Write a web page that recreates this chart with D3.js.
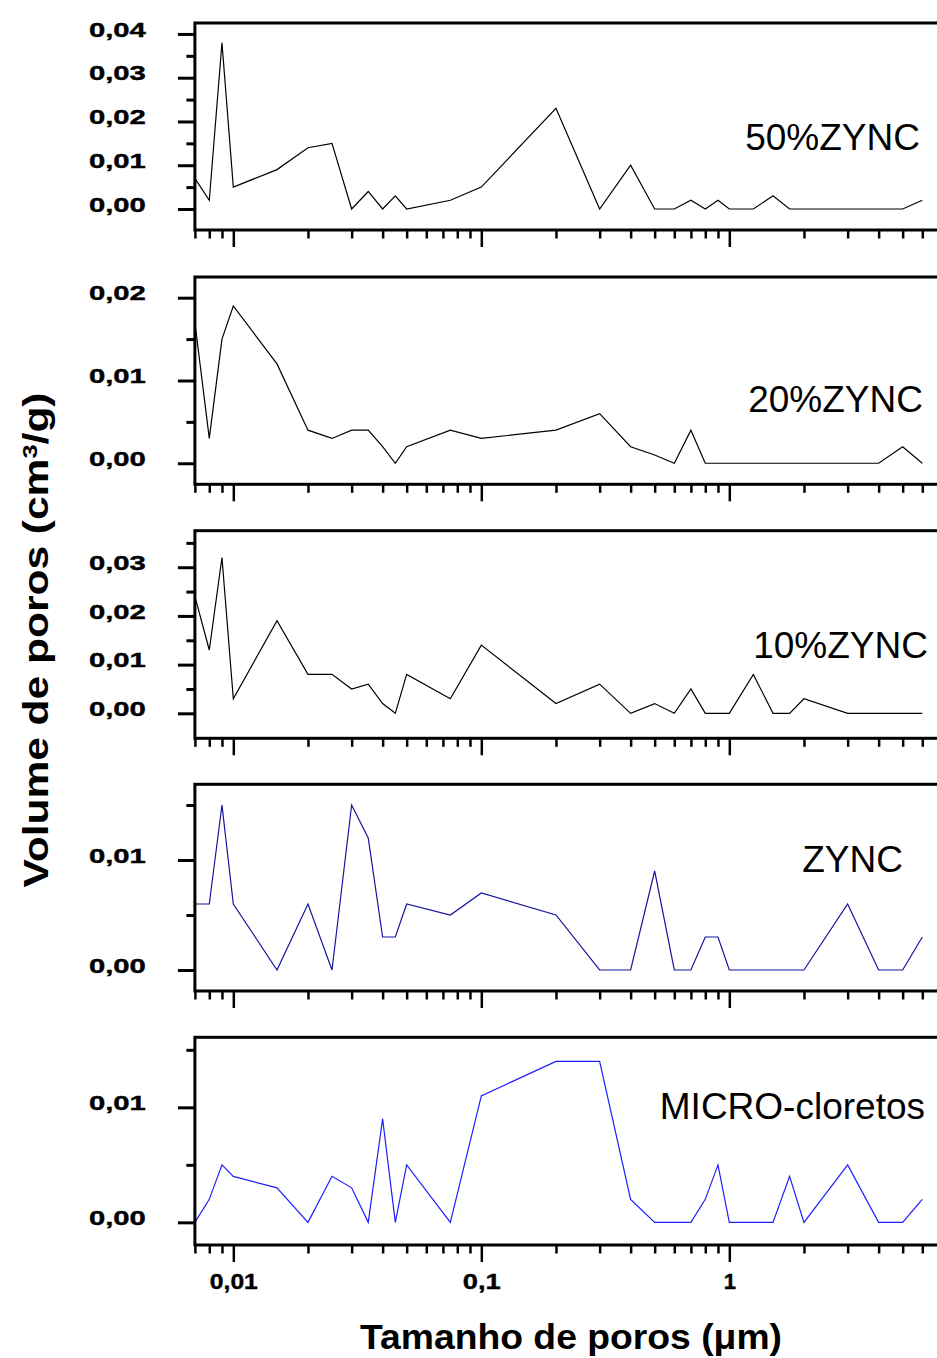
<!DOCTYPE html>
<html>
<head>
<meta charset="utf-8">
<script src="https://cdn.jsdelivr.net/npm/d3@7"></script>
<style>
  html, body { margin: 0; padding: 0; background: #fff; }
  svg { display: block; }
  svg text { font-family: "Liberation Sans", Arial, sans-serif; }
</style>
</head>
<body>
<div id="chart"></div>
<script>
// ---------- data ----------
const poreSize = [0.007, 0.008, 0.009, 0.01, 0.015, 0.02, 0.025, 0.03, 0.035, 0.04, 0.045, 0.05, 0.075, 0.1,
                  0.2, 0.3, 0.4, 0.5, 0.6, 0.7, 0.8, 0.9, 1, 1.25, 1.5, 1.75, 2, 3, 4, 5, 6];

const vol50 = [0.007, 0.002, 0.038, 0.005, 0.009, 0.014, 0.015, 0, 0.004, 0, 0.003, 0, 0.002, 0.005,
               0.023, 0, 0.010, 0, 0, 0.002, 0, 0.002, 0, 0, 0.003, 0, 0, 0, 0, 0, 0.002];
const vol20 = [0.017, 0.003, 0.015, 0.019, 0.012, 0.004, 0.003, 0.004, 0.004, 0.002, 0, 0.002, 0.004, 0.003,
               0.004, 0.006, 0.002, 0.001, 0, 0.004, 0, 0, 0, 0, 0, 0, 0, 0, 0, 0.002, 0];
const vol10 = [0.024, 0.013, 0.032, 0.003, 0.019, 0.008, 0.008, 0.005, 0.006, 0.002, 0, 0.008, 0.003, 0.014,
               0.002, 0.006, 0, 0.002, 0, 0.005, 0, 0, 0, 0.008, 0, 0, 0.003, 0, 0, 0, 0];
const volZYNC = [0.006, 0.006, 0.015, 0.006, 0, 0.006, 0, 0.015, 0.012, 0.003, 0.003, 0.006, 0.005, 0.007,
                 0.005, 0, 0, 0.009, 0, 0, 0.003, 0.003, 0, 0, 0, 0, 0, 0.006, 0, 0, 0.003];
const volMicro = [0, 0.002, 0.005, 0.004, 0.003, 0, 0.004, 0.003, 0, 0.009, 0, 0.005, 0, 0.011,
                  0.014, 0.014, 0.002, 0, 0, 0, 0.002, 0.005, 0, 0, 0, 0.004, 0, 0.005, 0, 0, 0.002];

const seriesNames = ["50%ZYNC", "20%ZYNC", "10%ZYNC", "ZYNC", "MICRO-cloretos"];
const seriesValues = [vol50, vol20, vol10, volZYNC, volMicro];

const yDomains = [[-0.0048, 0.0425], [-0.00254, 0.0225], [-0.00513, 0.0375], [-0.00191, 0.01688], [-0.00197, 0.01609]];
const yMajorTicks = [[0, 0.01, 0.02, 0.03, 0.04], [0, 0.01, 0.02], [0, 0.01, 0.02, 0.03], [0, 0.01], [0, 0.01]];
const yMinorTicks = [[0.005, 0.015, 0.025, 0.035], [0.005, 0.015], [0.005, 0.015, 0.025, 0.035], [0.005, 0.015], [0.005, 0.015]];

const xDomain = [0.007, 7];
const xMajorTicks = [0.01, 0.1, 1];
const xMinorTicks = [0.007, 0.008, 0.009, 0.02, 0.03, 0.04, 0.05, 0.06, 0.07, 0.08, 0.09,
                     0.2, 0.3, 0.4, 0.5, 0.6, 0.7, 0.8, 0.9, 2, 3, 4, 5, 6];
const xTickLabels = ["0,01", "0,1", "1"];

const xTitle = "Tamanho de poros (\u03bcm)";

// ---------- layout ----------
const W = 937, H = 1358;
const FONT = "'Liberation Sans', Arial, sans-serif";
const panelTops = [23, 277, 530.7, 784.3, 1037.3];
const panelBottoms = [230, 484.3, 738.3, 991, 1245];
const lineColors = ["#000", "#000", "#000", "#1414a0", "#1e1eff"];
const labelRight = [920, 923, 928, 903, 925];
const labelBase = [150, 411.7, 657.7, 871.7, 1119.3];

const svg = d3.select("#chart").append("svg")
  .attr("width", W).attr("height", H);

const x = d3.scaleLog().domain(xDomain).range([194.9, 938.9]);

const fmtY = v => d3.format(".2f")(v).replace(".", ",");

seriesNames.forEach((name, i) => {
  const g = svg.append("g");
  const y = d3.scaleLinear().domain(yDomains[i]).range([panelBottoms[i], panelTops[i]]);

  // data line
  const pts = poreSize.map((p, k) => [p, seriesValues[i][k]]);
  g.append("path")
    .datum(pts)
    .attr("fill", "none")
    .attr("stroke", lineColors[i])
    .attr("stroke-width", 1.2)
    .attr("d", d3.line().x(d => x(d[0])).y(d => y(d[1])));

  // frame
  g.append("rect")
    .attr("x", x.range()[0]).attr("y", panelTops[i])
    .attr("width", x.range()[1] - x.range()[0])
    .attr("height", panelBottoms[i] - panelTops[i])
    .attr("fill", "none").attr("stroke", "#000").attr("stroke-width", 3);

  // y axis minor
  const yMinor = g.append("g").attr("transform", `translate(${x.range()[0]},0)`)
    .call(d3.axisLeft(y).tickValues(yMinorTicks[i]).tickSize(8.5).tickFormat(""));
  // y axis major
  const yMajor = g.append("g").attr("transform", `translate(${x.range()[0]},0)`)
    .call(d3.axisLeft(y).tickValues(yMajorTicks[i]).tickSize(17).tickPadding(32).tickFormat(fmtY));
  yMajor.attr("font-size", 21).attr("font-family", FONT).attr("font-weight", "bold");
  [yMinor, yMajor].forEach(a => {
    a.select(".domain").remove();
    a.selectAll("line").attr("stroke", "#000").attr("stroke-width", 3);
  });
  yMajor.selectAll("text")
    .attr("fill", "#000")
    .attr("stroke", "#000").attr("stroke-width", 0.4)
    .attr("dy", "0.1em")
    .attr("textLength", 57).attr("lengthAdjust", "spacingAndGlyphs");

  // x axis
  const xMinor = g.append("g").attr("transform", `translate(0,${panelBottoms[i]})`)
    .call(d3.axisBottom(x).tickValues(xMinorTicks).tickSize(8.5).tickFormat(""));
  const isLast = i === seriesNames.length - 1;
  const xMajor = g.append("g").attr("transform", `translate(0,${panelBottoms[i]})`)
    .call(d3.axisBottom(x).tickValues(xMajorTicks).tickSize(17).tickPadding(11)
      .tickFormat((d, k) => isLast ? xTickLabels[k] : ""));
  xMajor.attr("font-size", 22).attr("font-family", FONT).attr("font-weight", "bold");
  [xMinor, xMajor].forEach(a => {
    a.select(".domain").remove();
    a.selectAll("line").attr("stroke", "#000").attr("stroke-width", 2.5);
  });
  if (isLast) {
    xMajor.selectAll("text")
      .attr("fill", "#000")
      .attr("stroke", "#000").attr("stroke-width", 0.4)
      .each(function(d, k) {
        const lens = [48, 38, 0];
        if (lens[k]) d3.select(this).attr("textLength", lens[k]).attr("lengthAdjust", "spacingAndGlyphs");
      });
  }

  // series label
  g.append("text")
    .attr("x", labelRight[i]).attr("y", labelBase[i])
    .attr("text-anchor", "end")
    .style("font-size", "37px")
    .attr("fill", "#000")
    .text(name);
});

// x title
svg.append("text")
  .attr("x", 571).attr("y", 1349)
  .attr("text-anchor", "middle")
  .style("font-size", "35px").style("font-weight", "bold")
  .attr("textLength", 422).attr("lengthAdjust", "spacingAndGlyphs")
  .text(xTitle);

// y title
const yt = svg.append("text")
  .attr("transform", "translate(48,640) rotate(-90)")
  .attr("text-anchor", "middle")
  .style("font-size", "35px").style("font-weight", "bold")
  .attr("textLength", 495).attr("lengthAdjust", "spacingAndGlyphs");
yt.append("tspan").text("Volume de poros (cm");
yt.append("tspan").attr("baseline-shift", "super").style("font-size", "21px").text("3");
yt.append("tspan").text("/g)");
</script>
</body>
</html>
